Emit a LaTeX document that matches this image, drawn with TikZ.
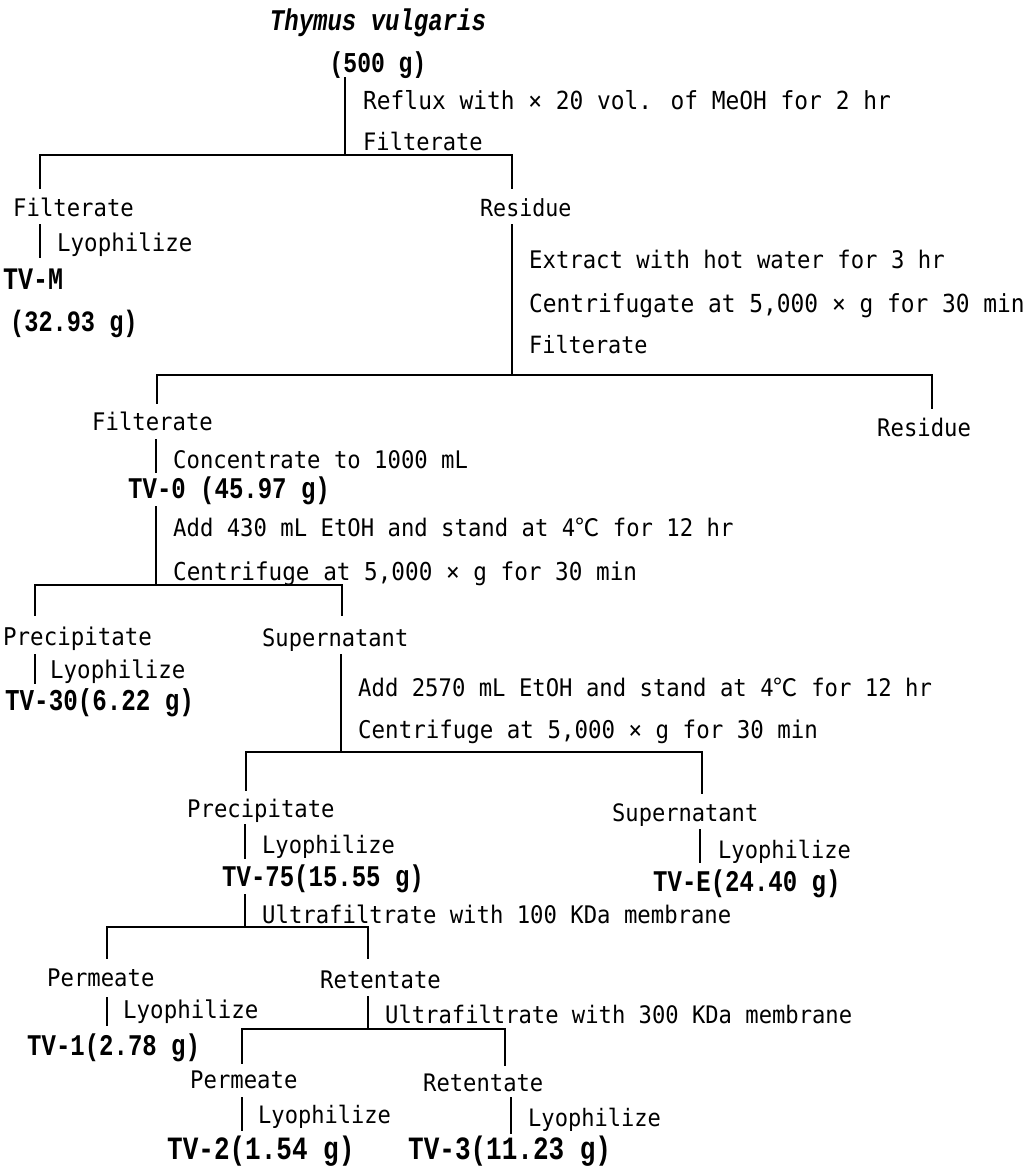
\documentclass[tikz,border=0pt]{standalone}
\usepackage{fontspec}
\setmainfont{DejaVu Sans Mono}[FakeStretch=0.92]
\newfontfamily\bmono{Liberation Mono Bold}[FakeStretch=0.8]
\newfontfamily\bimono{Liberation Mono Bold Italic}[FakeStretch=0.8]
\newfontfamily\cjk{Noto Sans CJK SC}
\begin{document}
\begin{tikzpicture}[x={(1pt,0)}, y={(0,-1pt)},
  lbl/.style={font=\fontsize{\the\dimexpr #1pt*109/100\relax}{\the\dimexpr #1pt*109/100\relax}\selectfont,
    inner sep=0pt, anchor=west,
    text height={\dimexpr #1pt*79/100\relax}, text depth=0pt},
  lbl/.default=22.4,
  bld/.style={lbl=#1, font=\bmono\fontsize{\the\dimexpr #1pt*125/100\relax}{\the\dimexpr #1pt*125/100\relax}\selectfont,
    text height={\dimexpr #1pt*72/100\relax}},
  bld/.default=24,
  ln/.style={line width=1.4pt, line cap=rect}]
\path[use as bounding box, fill=white] (0,0) rectangle (1034,1171);

% ---------- texts ----------
\node[bld=24, anchor=center, font=\bimono\fontsize{30}{30}\selectfont] (title) at (378,22) {Thymus vulgaris};
\node[bld=23, anchor=center] (g500) at (378,64) {(500 g)};
\node[lbl=22.8] (reflux) at (363,100) {Reflux with × 20 vol. of MeOH for 2 hr};
\node[lbl=22] (filtA) at (363,142) {Filterate};

\node[lbl=22.2] (filtL) at (13,208) {Filterate};
\node[lbl=21.6] (resA) at (480,208) {Residue};
\node[lbl] (lyoL) at (57,243) {Lyophilize};
\node[bld=25] (tvm) at (3,280) {TV-M};
\node[bld=23.6] (tvmg) at (10,323) {(32.93 g)};

\node[lbl=22.2] (extract) at (529,260) {Extract with hot water for 3 hr};
\node[lbl=22.8] (centA) at (529,303) {Centrifugate at 5,000 × g for 30 min};
\node[lbl=21.8] (filtB) at (529,345) {Filterate};

\node[lbl=22.2] (filtC) at (92,422) {Filterate};
\node[lbl=22.2] (resB) at (877,428) {Residue};
\node[lbl=22.2] (conc) at (173,460) {Concentrate to 1000 mL};
\node[bld=24] (tv0) at (128,490) {TV-0 (45.97 g)};
\node[lbl=22.2] (addA) at (173,528) {Add 430 mL EtOH and stand at 4{\cjk ℃} for 12 hr};
\node[lbl=22.6] (centB) at (173,572) {Centrifuge at 5,000 × g for 30 min};

\node[lbl=22.4] (precA) at (3,637) {Precipitate};
\node[lbl=22] (supA) at (262,638) {Supernatant};
\node[lbl] (lyoP) at (50,670) {Lyophilize};
\node[bld=24.2] (tv30) at (5,702) {TV-30(6.22 g)};
\node[lbl=22.2] (addB) at (358,688) {Add 2570 mL EtOH and stand at 4{\cjk ℃} for 12 hr};
\node[lbl=22.4] (centC) at (358,730) {Centrifuge at 5,000 × g for 30 min};

\node[lbl=22.2] (precB) at (187,809) {Precipitate};
\node[lbl=22] (supB) at (612,813) {Supernatant};
\node[lbl=22] (lyoQ) at (262,845) {Lyophilize};
\node[bld=24] (tv75) at (222,878) {TV-75(15.55 g)};
\node[lbl=22] (lyoE) at (718,850) {Lyophilize};
\node[bld=24] (tvE) at (653,883) {TV-E(24.40 g)};
\node[lbl=22.2] (ultA) at (262,915) {Ultrafiltrate with 100 KDa membrane};

\node[lbl=22.2] (permA) at (47,978) {Permeate};
\node[lbl=22.2] (retA) at (320,980) {Retentate};
\node[lbl] (lyoR) at (123,1010) {Lyophilize};
\node[bld=24] (tv1) at (27,1047) {TV-1(2.78 g)};
\node[lbl=22.1] (ultB) at (385,1015) {Ultrafiltrate with 300 KDa membrane};

\node[lbl=22.2] (permB) at (190,1080) {Permeate};
\node[lbl=22.1] (retB) at (423,1083) {Retentate};
\node[lbl=22] (lyoS) at (258,1115) {Lyophilize};
\node[lbl=22] (lyoT) at (528,1118) {Lyophilize};
\node[bld=26] (tv2) at (167,1150) {TV-2(1.54 g)};
\node[bld=26] (tv3) at (408,1150) {TV-3(11.23 g)};

% ---------- connectors ----------
% split 1 (methanol reflux)
\coordinate (p0) at (345,78);
\coordinate (s1l) at (40,155);  \coordinate (s1r) at (512,155);
\coordinate (s1ld) at (40,188); \coordinate (s1rd) at (512,188);
\draw[ln] (p0) -- (p0 |- s1l);
\draw[ln] (s1ld) -- (s1l) -- (s1r) -- (s1rd);
% lyophilize TV-M
\coordinate (l1a) at (40,225); \coordinate (l1b) at (40,257);
\draw[ln] (l1a) -- (l1b);
% split 2 (hot water)
\coordinate (r1a) at (512,225);
\coordinate (s2l) at (157,375);  \coordinate (s2r) at (932,375);
\coordinate (s2ld) at (157,403); \coordinate (s2rd) at (932,408);
\draw[ln] (r1a) -- (r1a |- s2l);
\draw[ln] (s2ld) -- (s2l) -- (s2r) -- (s2rd);
% concentrate
\coordinate (c1a) at (156,440); \coordinate (c1b) at (156,472);
\draw[ln] (c1a) -- (c1b);
% split 3 (430 mL EtOH)
\coordinate (t0a) at (156,507);
\coordinate (s3l) at (35,585);  \coordinate (s3r) at (342,585);
\coordinate (s3ld) at (35,615); \coordinate (s3rd) at (342,615);
\draw[ln] (t0a) -- (t0a |- s3l);
\draw[ln] (s3ld) -- (s3l) -- (s3r) -- (s3rd);
% lyophilize TV-30
\coordinate (pa) at (35,655); \coordinate (pb) at (35,683);
\draw[ln] (pa) -- (pb);
% split 4 (2570 mL EtOH)
\coordinate (sa) at (341,655);
\coordinate (s4l) at (246,752);  \coordinate (s4r) at (702,752);
\coordinate (s4ld) at (246,790); \coordinate (s4rd) at (702,793);
\draw[ln] (sa) -- (sa |- s4l);
\draw[ln] (s4ld) -- (s4l) -- (s4r) -- (s4rd);
% lyophilize TV-75
\coordinate (qa) at (245,825); \coordinate (qb) at (245,858);
\draw[ln] (qa) -- (qb);
% lyophilize TV-E
\coordinate (ea) at (700,830); \coordinate (eb) at (700,862);
\draw[ln] (ea) -- (eb);
% split 5 (100 KDa)
\coordinate (ua) at (245,895);
\coordinate (s5l) at (107,927);  \coordinate (s5r) at (368,927);
\coordinate (s5ld) at (107,958); \coordinate (s5rd) at (368,958);
\draw[ln] (ua) -- (ua |- s5l);
\draw[ln] (s5ld) -- (s5l) -- (s5r) -- (s5rd);
% lyophilize TV-1
\coordinate (ra) at (107,998); \coordinate (rb) at (107,1025);
\draw[ln] (ra) -- (rb);
% split 6 (300 KDa)
\coordinate (va) at (368,997);
\coordinate (s6l) at (242,1029);  \coordinate (s6r) at (505,1029);
\coordinate (s6ld) at (242,1063); \coordinate (s6rd) at (505,1065);
\draw[ln] (va) -- (va |- s6l);
\draw[ln] (s6ld) -- (s6l) -- (s6r) -- (s6rd);
% lyophilize TV-2, TV-3
\coordinate (wa) at (242,1098); \coordinate (wb) at (242,1130);
\draw[ln] (wa) -- (wb);
\coordinate (xa) at (511,1098); \coordinate (xb) at (511,1133);
\draw[ln] (xa) -- (xb);
\end{tikzpicture}
\end{document}
